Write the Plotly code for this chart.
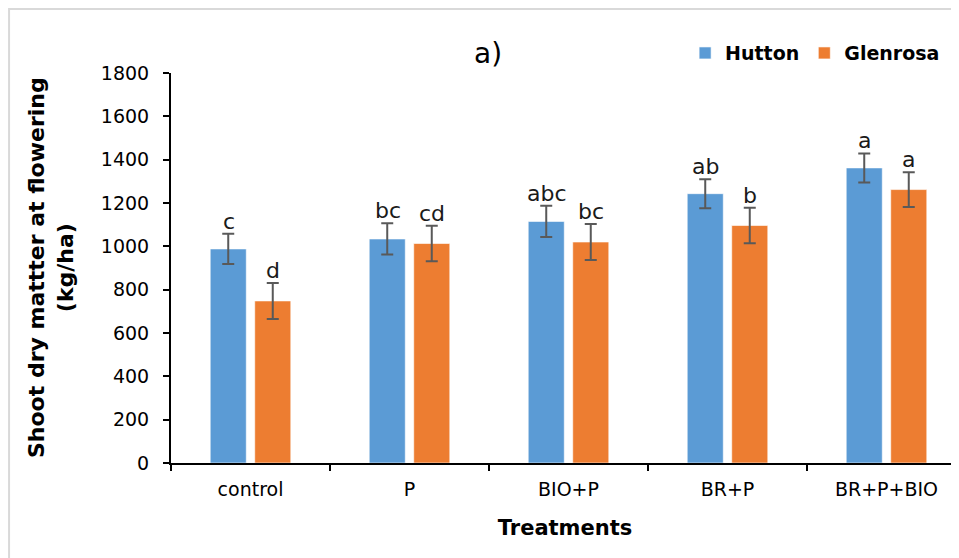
import plotly.graph_objects as go

categories = ["control", "P", "BIO+P", "BR+P", "BR+P+BIO"]
hutton = [988, 1034, 1115, 1243, 1362]
hutton_err = [70, 72, 72, 67, 67]
glenrosa = [748, 1013, 1020, 1096, 1262]
glenrosa_err = [83, 82, 83, 82, 80]
hutton_letters = ["c", "bc", "abc", "ab", "a"]
glenrosa_letters = ["d", "cd", "bc", "b", "a"]
y_ticks = [0, 200, 400, 600, 800, 1000, 1200, 1400, 1600, 1800]

BLUE = "#5B9BD5"
ORANGE = "#ED7D31"
ERR = "#595959"
FONT = "DejaVu Sans"

fig = go.Figure()
fig.add_trace(go.Bar(
    name="Hutton", x=categories, y=hutton,
    marker=dict(color=BLUE, line=dict(color="rgba(255,255,255,0.6)", width=1)),
    error_y=dict(type="data", array=hutton_err, color=ERR, thickness=2, width=6),
))
fig.add_trace(go.Bar(
    name="Glenrosa", x=categories, y=glenrosa,
    marker=dict(color=ORANGE, line=dict(color="rgba(255,255,255,0.6)", width=1)),
    error_y=dict(type="data", array=glenrosa_err, color=ERR, thickness=2, width=6),
))

annotations = []
for cat, v, e, t in zip(categories, hutton, hutton_err, hutton_letters):
    annotations.append(dict(x=cat, y=v + e, text=t, showarrow=False, xshift=-22,
                            yanchor="bottom", yshift=-2,
                            font=dict(family=FONT, size=22, color="#1a1a1a")))
for cat, v, e, t in zip(categories, glenrosa, glenrosa_err, glenrosa_letters):
    annotations.append(dict(x=cat, y=v + e, text=t, showarrow=False, xshift=22,
                            yanchor="bottom", yshift=-2,
                            font=dict(family=FONT, size=22, color="#1a1a1a")))

# panel label
annotations.append(dict(xref="paper", yref="paper", x=0.402, y=1, yshift=20,
                        text="a)", showarrow=False, xanchor="center", yanchor="middle",
                        font=dict(family=FONT, size=28, color="#000")))
# y-axis title
annotations.append(dict(xref="paper", yref="paper", x=0, y=0.5, xshift=-120,
                        text="<b>Shoot dry mattter at flowering<br>(kg/ha)</b>",
                        textangle=-90, showarrow=False, xanchor="center", yanchor="middle",
                        font=dict(family=FONT, size=22, color="#000")))

fig.update_layout(
    width=951, height=550,
    margin=dict(l=163, r=0, t=65, b=95, autoexpand=False),
    paper_bgcolor="white", plot_bgcolor="white",
    barmode="group", bargap=0.44, bargroupgap=0.19,
    font=dict(family=FONT, size=19, color="#000"),
    showlegend=True,
    legend=dict(orientation="h", xref="container", yref="container",
                x=0.712, xanchor="left", y=0.918, yanchor="middle",
                font=dict(family=FONT, size=19, color="#000", weight="bold"),
                bgcolor="rgba(0,0,0,0)", tracegroupgap=0, itemwidth=30),
    annotations=annotations,
    shapes=[dict(type="rect", xref="paper", yref="paper",
                 x0=-0.2055, x1=1.1, y0=-0.4, y1=1.164,
                 line=dict(color="#D9D9D9", width=2), layer="below")],
)
fig.update_xaxes(
    range=[-0.5, 4.456], showline=True, linecolor="#000", linewidth=2,
    ticks="outside", tickson="boundaries", ticklen=6, tickwidth=2, tickcolor="#000",
    ticklabelstandoff=8, showgrid=False, automargin=False,
    tickfont=dict(family=FONT, size=19, color="#000"),
    title=dict(text="<b>Treatments</b>", standoff=22,
               font=dict(family=FONT, size=21, color="#000")),
)
fig.update_yaxes(
    range=[0, 1800], tickvals=y_ticks, showline=True, linecolor="#000", linewidth=2,
    ticks="outside", ticklen=6, tickwidth=2, tickcolor="#000", showgrid=False,
    zeroline=False, ticklabelstandoff=10, automargin=False,
    tickfont=dict(family=FONT, size=19, color="#000"),
)

fig.write_html("out.html")
